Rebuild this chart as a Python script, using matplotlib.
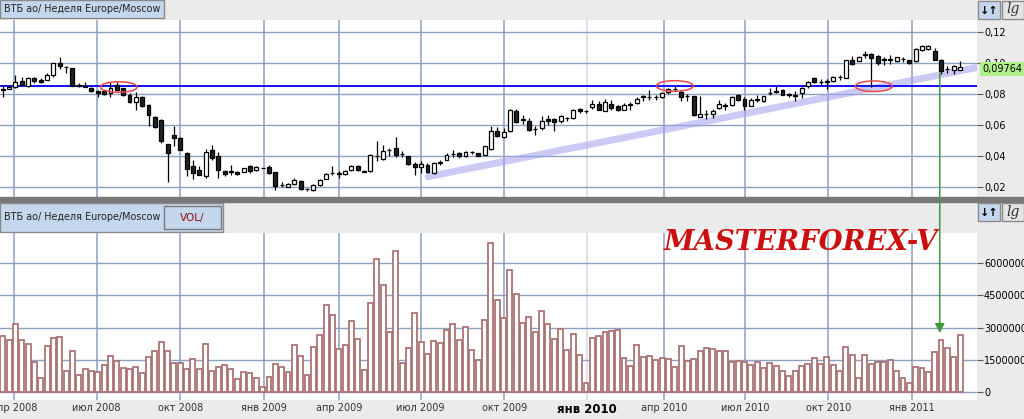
import numpy as np
import matplotlib.pyplot as plt
from matplotlib.patches import Rectangle, Ellipse, ConnectionPatch

# weekly candles, VTB
opens = [0.083, 0.0835, 0.0845, 0.0886, 0.0853, 0.0903, 0.089, 0.0892, 0.092, 0.100,
         0.0975, 0.0968, 0.0857, 0.0850, 0.0840, 0.0822, 0.0817, 0.0806, 0.0858, 0.0838,
         0.0795, 0.0746, 0.0781, 0.0731, 0.0652, 0.0634, 0.0477, 0.0538, 0.0516, 0.0419,
         0.0333, 0.0312, 0.0269, 0.0437, 0.0398, 0.0306, 0.0301, 0.0299, 0.0299, 0.0333,
         0.0308, 0.0323, 0.0327, 0.0295, 0.0215, 0.0202, 0.0222, 0.0239, 0.0190, 0.0183,
         0.0215, 0.0252, 0.0290, 0.0290, 0.0286, 0.0312, 0.0338, 0.0301, 0.0301, 0.0402,
         0.0381, 0.0436, 0.0452, 0.0413, 0.0398, 0.0351, 0.0329, 0.0340, 0.0290, 0.0357,
         0.0376, 0.0413, 0.0419, 0.0398, 0.0425, 0.0420, 0.0409, 0.0445, 0.0559, 0.0523,
         0.0559, 0.0693, 0.0635, 0.0624, 0.0576, 0.0581, 0.0641, 0.0639, 0.0628, 0.0646,
         0.0645, 0.0703, 0.0690, 0.0716, 0.0736, 0.0693, 0.0738, 0.0721, 0.0699, 0.0731,
         0.0742, 0.0785, 0.0781, 0.0781, 0.0781, 0.0811, 0.0833, 0.0813, 0.0786, 0.0785,
         0.0653, 0.0672, 0.0668, 0.0712, 0.0725, 0.0731, 0.0794, 0.0770, 0.0725, 0.0763,
         0.0753, 0.0805, 0.0817, 0.0823, 0.0796, 0.0790, 0.0806, 0.0849, 0.0901, 0.0878,
         0.0880, 0.0886, 0.0910, 0.0903, 0.1022, 0.1015, 0.1053, 0.1058, 0.1043, 0.1022,
         0.1022, 0.1011, 0.1026, 0.1017, 0.1011, 0.1082, 0.1088, 0.1075, 0.1022, 0.0962,
         0.0952, 0.0952]
highs = [0.086, 0.086, 0.092, 0.091, 0.091, 0.091, 0.090, 0.0935, 0.100, 0.1037,
         0.098, 0.0968, 0.0872, 0.0875, 0.0845, 0.0825, 0.0828, 0.0875, 0.0875, 0.0840,
         0.0806, 0.0811, 0.0789, 0.0735, 0.0656, 0.0640, 0.0479, 0.0596, 0.0522, 0.0424,
         0.0376, 0.0333, 0.0445, 0.0471, 0.0424, 0.0312, 0.0340, 0.0305, 0.0325, 0.0344,
         0.0333, 0.0325, 0.0344, 0.0297, 0.0230, 0.0225, 0.0256, 0.0243, 0.0194, 0.0219,
         0.0252, 0.0290, 0.0333, 0.0301, 0.0310, 0.0344, 0.0344, 0.0312, 0.0415, 0.0495,
         0.0473, 0.0452, 0.0523, 0.0430, 0.0402, 0.0359, 0.0366, 0.0355, 0.0360, 0.0376,
         0.0419, 0.0436, 0.0425, 0.0430, 0.0435, 0.0420, 0.0466, 0.0591, 0.0587, 0.0581,
         0.0705, 0.0703, 0.0666, 0.0645, 0.0591, 0.0656, 0.0667, 0.0645, 0.0667, 0.0652,
         0.0703, 0.0710, 0.0699, 0.0759, 0.0753, 0.0768, 0.0764, 0.0731, 0.0742, 0.0746,
         0.0779, 0.0795, 0.0824, 0.0795, 0.0810, 0.0839, 0.0850, 0.0824, 0.0802, 0.0790,
         0.0785, 0.0694, 0.0701, 0.0764, 0.0742, 0.0785, 0.0802, 0.0781, 0.0772, 0.0796,
         0.0790, 0.0839, 0.0850, 0.0835, 0.0806, 0.0817, 0.0845, 0.0882, 0.0908, 0.0897,
         0.0897, 0.0918, 0.0925, 0.1022, 0.1043, 0.1043, 0.1075, 0.1065, 0.1050, 0.1037,
         0.1050, 0.1040, 0.1040, 0.1020, 0.1099, 0.1118, 0.1118, 0.1097, 0.1026, 0.0978,
         0.0984, 0.1011]
lows = [0.078, 0.083, 0.084, 0.0856, 0.0843, 0.087, 0.087, 0.0888, 0.091, 0.0964,
        0.0935, 0.085, 0.0845, 0.0845, 0.0815, 0.0778, 0.0791, 0.0781, 0.0820, 0.0785,
        0.0742, 0.0699, 0.0716, 0.0596, 0.0581, 0.0484, 0.0235, 0.0462, 0.0437, 0.0273,
        0.0252, 0.0275, 0.0260, 0.0376, 0.0258, 0.0273, 0.0280, 0.0280, 0.0295, 0.0290,
        0.0305, 0.0320, 0.0286, 0.0183, 0.0200, 0.0200, 0.0215, 0.0183, 0.0176, 0.0176,
        0.0204, 0.0250, 0.0280, 0.0258, 0.0280, 0.0301, 0.0301, 0.0295, 0.0295, 0.0366,
        0.0376, 0.0400, 0.0393, 0.0396, 0.0344, 0.0280, 0.0290, 0.0290, 0.0285, 0.0344,
        0.0372, 0.0393, 0.0390, 0.0395, 0.0410, 0.0400, 0.0405, 0.0440, 0.0523, 0.0516,
        0.0552, 0.0613, 0.0608, 0.0559, 0.0538, 0.0570, 0.0602, 0.0563, 0.0613, 0.0624,
        0.0639, 0.0677, 0.0677, 0.0703, 0.0695, 0.0688, 0.0699, 0.0688, 0.0695, 0.0695,
        0.0738, 0.0755, 0.0763, 0.0763, 0.0776, 0.0802, 0.0818, 0.0753, 0.0753, 0.0660,
        0.0650, 0.0637, 0.0645, 0.0705, 0.0695, 0.0725, 0.0753, 0.0699, 0.0720, 0.0746,
        0.0750, 0.0796, 0.0806, 0.0792, 0.0781, 0.0753, 0.0774, 0.0839, 0.0873, 0.0856,
        0.0832, 0.0880, 0.0893, 0.0900, 0.0990, 0.1011, 0.1032, 0.0847, 0.0990, 0.0990,
        0.0996, 0.1005, 0.1006, 0.0996, 0.1005, 0.1075, 0.1082, 0.1017, 0.0931, 0.0935,
        0.0931, 0.0952]
closes = [0.0829, 0.0845, 0.088, 0.086, 0.090, 0.0887, 0.0875, 0.0925, 0.100, 0.0983,
          0.0972, 0.0853, 0.0850, 0.0848, 0.0818, 0.0806, 0.0803, 0.0838, 0.0823, 0.0795,
          0.0746, 0.0781, 0.0720, 0.0662, 0.0587, 0.0495, 0.0420, 0.0516, 0.0441, 0.0316,
          0.0290, 0.0280, 0.0424, 0.0387, 0.0308, 0.0286, 0.0299, 0.0284, 0.0320, 0.0305,
          0.0327, 0.0322, 0.0290, 0.0204, 0.0213, 0.0222, 0.0245, 0.0190, 0.0187, 0.0213,
          0.0243, 0.0286, 0.0289, 0.0284, 0.0306, 0.0338, 0.0312, 0.0299, 0.0409, 0.0400,
          0.0430, 0.0438, 0.0409, 0.0411, 0.0351, 0.0329, 0.0351, 0.0295, 0.0355, 0.0359,
          0.0409, 0.0415, 0.0398, 0.0426, 0.0424, 0.0402, 0.0462, 0.0563, 0.0527, 0.0555,
          0.0695, 0.0620, 0.0634, 0.0570, 0.0574, 0.0624, 0.0624, 0.0619, 0.0660, 0.0645,
          0.0695, 0.0688, 0.0688, 0.0738, 0.0699, 0.0746, 0.0710, 0.0695, 0.0731, 0.0732,
          0.0770, 0.0778, 0.0780, 0.0779, 0.0806, 0.0832, 0.0834, 0.0778, 0.0784, 0.0662,
          0.0672, 0.0668, 0.0690, 0.0738, 0.0724, 0.0781, 0.0760, 0.0721, 0.0764, 0.0765,
          0.0785, 0.0806, 0.0815, 0.0796, 0.0795, 0.0791, 0.0838, 0.0875, 0.0877, 0.0877,
          0.0882, 0.0910, 0.0911, 0.1017, 0.0996, 0.1037, 0.1054, 0.1032, 0.1000, 0.1021,
          0.1021, 0.1037, 0.1025, 0.1000, 0.1092, 0.1108, 0.1108, 0.1022, 0.0946, 0.0961,
          0.0978, 0.0976]
# weekly volume, millions of shares
volume_mln = [26.1, 24.3, 31.5, 24.3, 22.6, 13.9, 6.3, 21.6, 25.2, 25.7,
              9.9, 19.3, 7.7, 10.8, 10.0, 9.4, 12.7, 16.7, 14.4, 11.3,
              10.8, 11.7, 9.0, 16.2, 19.2, 23.5, 19.3, 13.5, 13.5, 10.8,
              15.3, 10.8, 22.6, 9.9, 11.6, 12.5, 10.7, 5.9, 9.4, 8.8,
              6.3, 2.2, 7.1, 13.0, 11.6, 9.4, 22.0, 17.0, 8.0, 21.0,
              26.4, 40.5, 36.0, 20.1,
              22.0, 33.2, 24.6, 10.4, 41.3, 62.1, 49.9, 28.0, 65.7, 13.5,
              20.7, 36.9, 23.5, 17.9, 23.8, 23.0, 28.8, 31.5, 24.3, 30.1,
              19.8, 15.0, 33.7, 69.3, 42.7, 34.6, 56.7, 45.9, 32.0, 34.9,
              28.0, 37.7, 31.5, 24.7, 29.5, 19.8, 27.1, 17.2, 4.3, 25.2,
              26.1, 28.0, 28.4, 28.8, 15.8, 12.2, 22.0, 16.2, 16.7, 15.0,
              15.8, 15.3, 11.6,
              21.6, 14.4, 15.3, 19.3, 20.7, 20.1, 19.3, 18.9, 13.9, 14.4,
              13.9, 12.7, 13.9, 11.3, 13.5, 12.2, 9.9, 7.4, 9.9, 12.2,
              13.0, 15.8, 13.0, 16.2, 12.7, 9.9, 21.2, 17.2, 6.6, 17.2,
              13.0, 13.9, 13.9, 14.8, 9.9, 6.3, 4.2, 11.7, 11.3, 9.4,
              18.6, 24.4, 20.7, 16.2, 26.4]

tick_pos = [1.8, 14.8, 28.0, 41.2, 53.0, 65.9, 79.1, 92.2, 104.3, 117.1, 130.2, 143.4]
tick_labels = ["апр 2008", "июл 2008", "окт 2008", "янв 2009", "апр 2009", "июл 2009",
               "окт 2009", "янв 2010", "апр 2010", "июл 2010", "окт 2010", "янв 2011"]
price_ticks = [0.02, 0.04, 0.06, 0.08, 0.10, 0.12]
vol_ticks = [0, 15000000, 30000000, 45000000, 60000000]
level = 0.085
trend_x = [67.1, 153.7]
trend_y = [0.0267, 0.0971]
marks_x = [18.3, 106.0, 137.4]
marks_y = [0.0845, 0.0852, 0.0850]
last_price = 0.09764
arrow_x = 147.8


def fx(px):
    return px / 1024


def fy(py):
    return 1 - py / 419


def box(fig, x0, y0, x1, y1, **kw):
    r = Rectangle((fx(x0), fy(y1)), (x1 - x0) / 1024, (y1 - y0) / 419,
                  transform=fig.transFigure, **kw)
    fig.add_artist(r)


fig = plt.figure(figsize=(10.24, 4.19), dpi=100, facecolor='#ebebeb')
ax1 = fig.add_axes([0, fy(197), fx(977), (197 - 20) / 419])
ax2 = fig.add_axes([0, fy(400), fx(977), (400 - 233) / 419])

x = np.arange(len(closes))
o = np.array(opens)
c = np.array(closes)
h = np.array(highs)
l = np.array(lows)
up = c >= o
lo = np.minimum(o, c)
bh = np.maximum(np.abs(c - o), 0.0002)

xl = (-2.7 / 6.34, (977 - 2.7) / 6.34)

for ax in (ax1, ax2):
    ax.set_facecolor('white')
    for s in ax.spines.values():
        s.set_visible(False)
    ax.set_xlim(*xl)
    ax.set_xticks(tick_pos)
    ax.xaxis.grid(True, color='#a4b4cf', lw=1.4)
    ax.yaxis.grid(True, color='#8ca0c0', lw=1.0)
    ax.set_axisbelow(True)
    ax.xaxis.get_gridlines()[7].set_color('#dbe2ee')
    ax.tick_params(axis='y', left=False, labelleft=False, right=True, labelright=True,
                   length=4, width=0.8, color='#555555', pad=1, labelsize=7)
    ax.tick_params(axis='x', length=0)

# price panel
ax1.set_ylim(0.01355, 0.12774)
ax1.set_yticks(price_ticks)
ax1.set_yticklabels([f"{v:.2f}".replace('.', ',') for v in price_ticks])
ax1.tick_params(axis='x', labelbottom=False)
ax1.plot(trend_x, trend_y, color='#a0a0ee', alpha=0.55, lw=5, solid_capstyle='round', zorder=2)
ax1.axhline(level, color='#1010ee', lw=1.4, zorder=2)
ax1.vlines(x, l, h, color='black', lw=0.9, zorder=3)
ax1.bar(x[up], bh[up], bottom=lo[up], width=0.62, color='white', edgecolor='black', lw=0.9, zorder=4)
ax1.bar(x[~up], bh[~up], bottom=lo[~up], width=0.62, color='#222222', edgecolor='black', lw=0.9, zorder=4)
for mx, my in zip(marks_x, marks_y):
    ax1.add_patch(Ellipse((mx, my), 5.8, 0.0068, fill=False, edgecolor='#e84848', lw=1.1, zorder=5))

# volume panel
ax2.set_ylim(-3.73e6, 74.1e6)
ax2.set_yticks(vol_ticks)
ax2.set_yticklabels([str(v) for v in vol_ticks])
ax2.bar(x, np.array(volume_mln) * 1e6, width=0.78, facecolor='white', edgecolor='#ab7474', lw=1.3, zorder=3)
ax2.set_xticklabels(tick_labels, fontsize=7, color='#333333')
ax2.tick_params(axis='x', pad=2)
lab = ax2.get_xticklabels()[7]
lab.set_fontweight('bold')
lab.set_fontsize(8.5)
lab.set_color('black')

# panel chrome
box(fig, 0, 197, 1024, 202, color='#787878', zorder=1)
box(fig, 0, 0, 164, 18, facecolor='#c5d7ec', edgecolor='#8a8a8a', lw=1, zorder=2)
fig.text(fx(4), fy(9.5), "ВТБ ао/ Неделя Europe/Moscow", fontsize=6.9, color='#222222', va='center')
box(fig, 0, 203, 223, 232, facecolor='#c5d7ec', edgecolor='#8a8a8a', lw=1, zorder=2)
box(fig, 164, 206, 221, 229, facecolor='#c5d7ec', edgecolor='#7a7a7a', lw=1, zorder=3)
fig.text(fx(4), fy(217), "ВТБ ао/ Неделя Europe/Moscow", fontsize=6.9, color='#222222', va='center')
fig.text(fx(192), fy(217.5), "VOL/", fontsize=7.5, color='#8b1010', va='center', ha='center')
for top in (1, 203):
    box(fig, 978, top, 1000, top + 18, facecolor='#c5d7ec', edgecolor='#8a8a8a', lw=1, zorder=2)
    box(fig, 1002, top, 1024, top + 18, facecolor='#e4e4e4', edgecolor='#8a8a8a', lw=1, zorder=2)
    fig.text(fx(989), fy(top + 9.5), "↓↑", fontsize=8, fontweight='bold', ha='center', va='center')
    fig.text(fx(1013), fy(top + 8.5), "lg", fontsize=10, family='DejaVu Serif',
             fontstyle='italic', ha='center', va='center', color='#333333')
fig.text(fx(982), fy(69), f"{last_price:.5f}".replace('.', ','), fontsize=7, va='center',
         bbox=dict(boxstyle='square,pad=0.2', facecolor='#b2f08e', edgecolor='none'), zorder=6)

fig.text(fx(664), fy(242), "MASTERFOREX-V", fontsize=19.8, fontweight='bold', fontstyle='italic',
         family='DejaVu Serif', color='#cc1010', va='center', ha='left')

arrow = ConnectionPatch(xyA=(arrow_x, 0.0935), coordsA=ax1.transData,
                        xyB=(arrow_x, 27.4e6), coordsB=ax2.transData,
                        arrowstyle='-|>', mutation_scale=14, color='#3c9c3c', lw=1.1, zorder=10)
fig.add_artist(arrow)

fig.savefig('out.png', dpi=100, facecolor=fig.get_facecolor())
